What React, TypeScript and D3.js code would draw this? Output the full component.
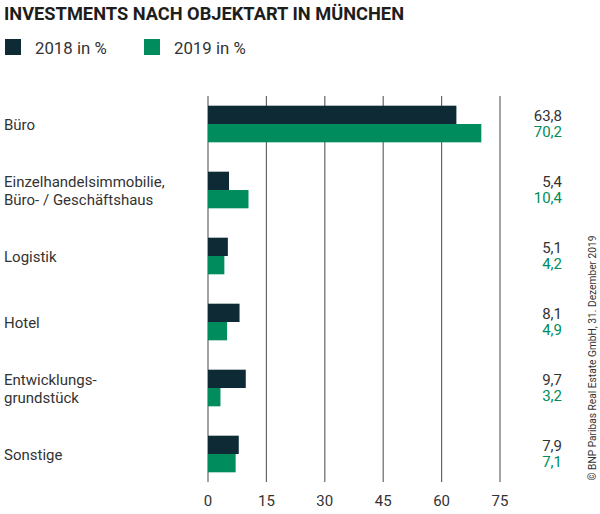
import React from 'react';
import * as d3 from 'd3';

// chart data
const categories = [
  ['Büro'],
  ['Einzelhandelsimmobilie,', 'Büro- / Geschäftshaus'],
  ['Logistik'],
  ['Hotel'],
  ['Entwicklungs-', 'grundstück'],
  ['Sonstige'],
];
const values2018 = [63.8, 5.4, 5.1, 8.1, 9.7, 7.9];
const values2019 = [70.2, 10.4, 4.2, 4.9, 3.2, 7.1];
const xTicks = [0, 15, 30, 45, 60, 75];
const seriesNames = ['2018 in %', '2019 in %'];

const DARK = '#0d2a35';
const GREEN = '#008c5c';
const FONT = 'Roboto, "Noto Sans", sans-serif';

const fmt = (v: number) => v.toFixed(1).replace('.', ',');

export default function App() {
  const width = 600;
  const height = 514;

  const x = d3.scaleLinear().domain([0, 75]).range([208, 500]);
  const y = d3
    .scaleBand<number>()
    .domain(d3.range(categories.length))
    .range([91, 487])
    .paddingInner(0.445)
    .paddingOuter(0.2225);
  const barH = y.bandwidth() / 2;
  const gridTop = 96;
  const gridBottom = 482;

  return (
    <svg
      width={width}
      height={height}
      style={{ position: 'absolute', left: 0, top: 0, background: '#fff' }}
      fontFamily={FONT}
    >
      <text x={4} y={20} fontSize={18.5} fontWeight={700} fill="#1d1d1b" textLength={400} lengthAdjust="spacingAndGlyphs">
        INVESTMENTS NACH OBJEKTART IN MÜNCHEN
      </text>

      {/* legend */}
      {seriesNames.map((name, i) => (
        <g key={name} transform={`translate(${i === 0 ? 5 : 144},39)`}>
          <rect width={16} height={16} fill={i === 0 ? DARK : GREEN} />
          <text x={30} y={15} fontSize={16.8} fill="#333">
            {name}
          </text>
        </g>
      ))}

      {/* grid */}
      {xTicks.map((t) => (
        <g key={t}>
          <line x1={x(t)} x2={x(t)} y1={gridTop} y2={gridBottom} stroke="#666" strokeWidth={1.2} />
          <text x={x(t)} y={506} fontSize={15} textAnchor="middle" fill="#333">
            {t}
          </text>
        </g>
      ))}

      {/* bars */}
      {categories.map((lines, i) => {
        const y0 = y(i)!;
        const mid = y0 + barH;
        const lineGap = 18;
        const firstBase = mid + 5.5 - ((lines.length - 1) * lineGap) / 2;
        return (
          <g key={i}>
            <rect x={x(0)} y={y0} width={x(values2018[i]) - x(0)} height={barH} fill={DARK} />
            <rect x={x(0)} y={y0 + barH} width={x(values2019[i]) - x(0)} height={barH} fill={GREEN} />
            {lines.map((l, j) => (
              <text key={j} x={4} y={firstBase + j * lineGap} fontSize={15} fill="#333">
                {l}
              </text>
            ))}
            <text x={562} y={y0 + 15} fontSize={15} textAnchor="end" fill="#333">
              {fmt(values2018[i])}
            </text>
            <text x={562} y={y0 + 31.5} fontSize={15} textAnchor="end" fill={GREEN}>
              {fmt(values2019[i])}
            </text>
          </g>
        );
      })}

      <text
        transform="translate(596,358) rotate(-90)"
        fontSize={10.2}
        textAnchor="middle"
        fill="#333"
      >
        © BNP Paribas Real Estate GmbH, 31. Dezember 2019
      </text>
    </svg>
  );
}
